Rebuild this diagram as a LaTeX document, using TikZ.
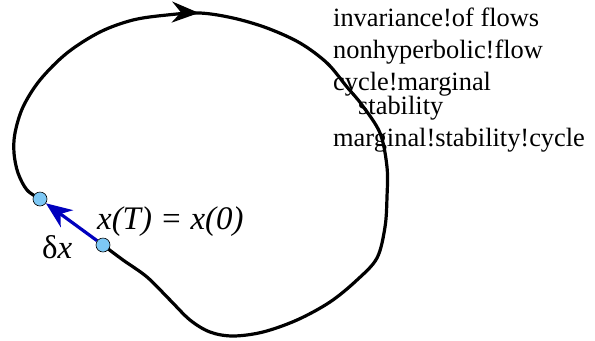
\documentclass[tikz,border=0pt]{standalone}
\usepackage{fontspec}
\setmainfont{Liberation Serif}
\usetikzlibrary{arrows.meta,decorations.markings,backgrounds}
\definecolor{dotblue}{RGB}{125,200,245}
\definecolor{vecblue}{RGB}{0,0,190}

\begin{document}
\begin{tikzpicture}[
  x=1bp, y=-1bp,
  orbit/.style={line width=3.2bp, line join=round, postaction={decorate},
    decoration={markings, mark=at position 0.314 with {\arrow{Stealth[length=27bp,width=21bp,inset=9bp]}}}},
  pt/.style={circle, draw, line width=0.6bp, fill=dotblue, inner sep=0pt, minimum size=14bp},
  vec/.style={-{Stealth[length=26bp,width=21bp,inset=8bp]}, line width=3.2bp, draw=vecblue},
  idx/.style={anchor=base west, inner sep=0pt, font=\fontsize{26.5}{32}\selectfont},
  lbl/.style={anchor=base west, inner sep=0pt, font=\fontsize{33}{40}\selectfont},
]
\useasboundingbox (0,0) rectangle (595,340);
\node[pt] (x0) at (103,245) {};
\node[pt] (xT) at (40,199) {};
\node[lbl] (eq) at (97,229) {\textit{x(T) = x(0)}};
\node[lbl] (dx) at (42,258) {δ\textit{x}};
\node[idx] (ix1) at (333,26) {invariance!of flows};
\node[idx] (ix2) at (333,58) {nonhyperbolic!flow};
\node[idx] (ix3) at (333,90) {cycle!marginal};
\node[idx] (ix4) at (358,114) {stability};
\node[idx] (ix5) at (333,146) {marginal!stability!cycle};
\begin{scope}[on background layer]
% periodic orbit, from x(T) over the top and round to x(0)
\draw[orbit] plot[smooth, tension=0.55] coordinates {(xT.center) (27,190) (18,173) (14,153)
  (15,133) (23,107) (40,80) (67,53) (100,32) (133,20) (167,15) (200,13) (233,18) (267,28)
  (300,43) (327,63) (347,87) (362,105) (380,133) (387,167) (387,197) (385,227) (377,258)
  (357,280) (330,302) (297,320) (263,332) (233,336) (210,332) (190,320) (170,300) (147,277)
  (123,260) (x0.center)};
\draw[vec] (x0) -- (xT);
\end{scope}
\end{tikzpicture}
\end{document}
